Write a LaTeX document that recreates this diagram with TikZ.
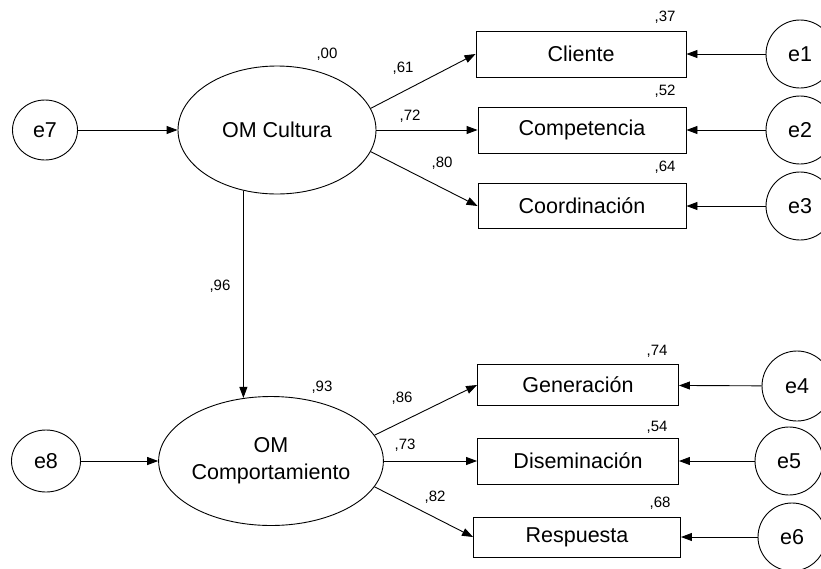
\documentclass[tikz,border=0pt]{standalone}
\usepackage{fontspec}
\setmainfont{Liberation Sans}
\usepackage{tikz}
\usetikzlibrary{positioning, arrows.meta, shapes.geometric}

\begin{document}
\begin{tikzpicture}[x=1pt,y=-1pt,line width=0.9pt,
  latent/.style={draw,ellipse,inner sep=0pt,font=\fontsize{21.5}{27}\selectfont,align=center},
  obs/.style={draw,rectangle,inner sep=0pt,font=\fontsize{21.5}{24}\selectfont},
  err/.style={draw,circle,inner sep=0pt,minimum size=68pt,font=\fontsize{21.5}{24}\selectfont},
  coef/.style={font=\fontsize{15}{17}\selectfont,inner sep=0pt},
  path/.style={-{Triangle[length=11pt,width=8pt]}}]
\useasboundingbox (0,0) rectangle (821,568);
\node[latent,minimum width=198pt,minimum height=128pt] (cult) at (277,130) {OM Cultura};
\node[latent,minimum width=196pt,minimum height=129pt] (comp) at (271,461) {OM\\Comportamiento};
\node[latent,minimum width=65pt,minimum height=60pt] (e7) at (45,130) {e7};
\node[latent,minimum width=69pt,minimum height=62pt] (e8) at (46,461) {e8};
\node[obs,minimum width=210pt,minimum height=46pt] (cli) at (581,54) {Cliente};
\node[obs,minimum width=208pt,minimum height=46pt] (compet) at (582,130) {Competencia};
\node[obs,minimum width=208pt,minimum height=45pt] (coord) at (582,206) {Coordinación};
\node[obs,minimum width=201pt,minimum height=41pt] (gen) at (578,385) {Generación};
\node[obs,minimum width=201pt,minimum height=46pt] (dis) at (578,461) {Diseminación};
\node[obs,minimum width=207pt,minimum height=40pt] (resp) at (577,537) {Respuesta};
\node[err] (e1) at (800,54) {e1};
\node[err] (e2) at (800,130) {e2};
\node[err] (e3) at (800,206) {e3};
\node[err,minimum size=70pt] (e4) at (797,386) {e4};
\node[err] (e5) at (789,461) {e5};
\node[err] (e6) at (792,537) {e6};
\draw[path] (e7) -- (cult);
\draw[path] (e8) -- (comp);
\draw[path] (cult.241) -- (cult.241 |- comp.113);
\draw[path] (cult.13) -- (cli.west);
\draw[path] (cult.east) -- (compet.west);
\draw[path] (cult.-13) -- (coord.west);
\draw[path] (comp.14) -- (gen.west);
\draw[path] (comp.east) -- (dis.west);
\draw[path] (comp.-14) -- (resp.west);
\draw[path] (e1) -- (cli);
\draw[path] (e2) -- (compet);
\draw[path] (e3) -- (coord);
\draw[path] (e4) -- (gen);
\draw[path] (e5) -- (dis);
\draw[path] (e6) -- (resp);
\node[coef] (r0) at (327,54) {,00};
\node[coef] (l1) at (403,68) {,61};
\node[coef] (l2) at (410,116) {,72};
\node[coef] (l3) at (442,163) {,80};
\node[coef] (r1) at (665,17) {,37};
\node[coef] (r2) at (665,91) {,52};
\node[coef] (r3) at (665,167) {,64};
\node[coef] (b1) at (220,286) {,96};
\node[coef] (r7) at (322,387) {,93};
\node[coef] (l4) at (402,398) {,86};
\node[coef] (l5) at (405,445) {,73};
\node[coef] (l6) at (435,497) {,82};
\node[coef] (r4) at (657,351) {,74};
\node[coef] (r5) at (657,427) {,54};
\node[coef] (r6) at (660,503) {,68};
\end{tikzpicture}
\end{document}
